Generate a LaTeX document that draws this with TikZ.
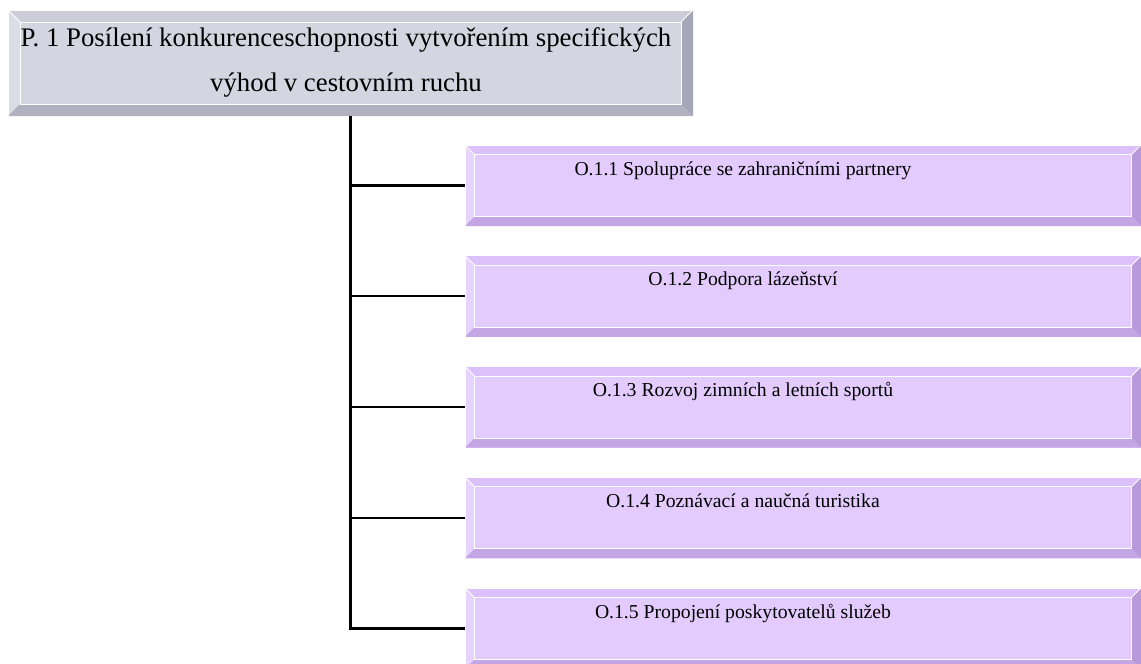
\documentclass[tikz,border=0pt]{standalone}
\usepackage{fontspec}
\setmainfont{Liberation Serif}
\usetikzlibrary{calc}
\definecolor{gface}{HTML}{D5D5E1}
\definecolor{gtop}{HTML}{CDCDD9}
\definecolor{gleft}{HTML}{DCDCE6}
\definecolor{gbot}{HTML}{B1B1C0}
\definecolor{gright}{HTML}{A6A6B8}
\definecolor{pface}{HTML}{E3CCFD}
\definecolor{ptop}{HTML}{DCC0FC}
\definecolor{pleft}{HTML}{E7D4FE}
\definecolor{pbot}{HTML}{C4A6E4}
\definecolor{pright}{HTML}{B89ADA}
% #1 node, #2 bevel, #3 top, #4 left, #5 bottom, #6 right
\newcommand\mybevel[6]{%
  \fill[#3] (#1.north west) -- (#1.north east) -- ($(#1.north east)+(-#2,#2)$) -- ($(#1.north west)+(#2,#2)$) -- cycle;
  \fill[#4] (#1.north west) -- ($(#1.north west)+(#2,#2)$) -- ($(#1.south west)+(#2,-#2)$) -- (#1.south west) -- cycle;
  \fill[#5] (#1.south west) -- ($(#1.south west)+(#2,-#2)$) -- ($(#1.south east)+(-#2,-#2)$) -- (#1.south east) -- cycle;
  \fill[#6] (#1.south east) -- ($(#1.south east)+(-#2,-#2)$) -- ($(#1.north east)+(-#2,#2)$) -- (#1.north east) -- cycle;
  \draw[white, line width=0.9pt] ($(#1.north west)+(#2,#2)$) rectangle ($(#1.south east)+(-#2,-#2)$);
  \draw[white, line width=0.9pt] (#1.north west) -- ($(#1.north west)+(#2,#2)$);
  \draw[white, line width=0.9pt] (#1.north east) -- ($(#1.north east)+(-#2,#2)$);
  \draw[white, line width=0.6pt] (#1.south west) -- (#1.north west) -- (#1.north east);
}
\tikzset{
  gbox/.style={rectangle, fill=gface, inner sep=0pt, outer sep=0pt, minimum width=685pt, minimum height=106pt},
  obox/.style={rectangle, fill=pface, inner sep=0pt, outer sep=0pt, minimum width=676pt, minimum height=81pt},
  ptext/.style={inner sep=0pt, anchor=base, font=\fontsize{26.8}{32}\selectfont},
  otext/.style={inner sep=0pt, anchor=base, font=\fontsize{19.7}{24}\selectfont},
  conn/.style={draw=black, line width=2.2pt}
}
\begin{document}
\begin{tikzpicture}[x=1pt,y=-1pt]
\useasboundingbox (0,0) rectangle (1141,664);
\fill[white] (0,0) rectangle (1141,664);
\node[gbox] (p1) at (350.5,63) {};
\mybevel{p1}{12}{gtop}{gleft}{gbot}{gright}
\node[ptext] (p1a) at (346,46) {P. 1 Posílení konkurenceschopnosti vytvořením specifických};
\node[ptext] (p1b) at (346,91) {výhod v cestovním ruchu};
\foreach \i/\t in {1/{O.1.1 Spolupráce se zahraničními partnery},
                   2/{O.1.2 Podpora lázeňství},
                   3/{O.1.3 Rozvoj zimních a letních sportů},
                   4/{O.1.4 Poznávací a naučná turistika},
                   5/{O.1.5 Propojení poskytovatelů služeb}}{
  \node[obox] (o\i) at (803,{145+110.75*(\i-1)+40.5}) {};
  \mybevel{o\i}{9.5}{ptop}{pleft}{pbot}{pright}
  \node[otext] (t\i) at ($(o\i.north west)+(278,30)$) {\t};
}
\draw[conn] (p1.south) |- (o5.west);
\foreach \i in {1,2,3,4}{
  \draw[conn] (p1.south |- o\i.west) -- (o\i.west);
}
\end{tikzpicture}
\end{document}
